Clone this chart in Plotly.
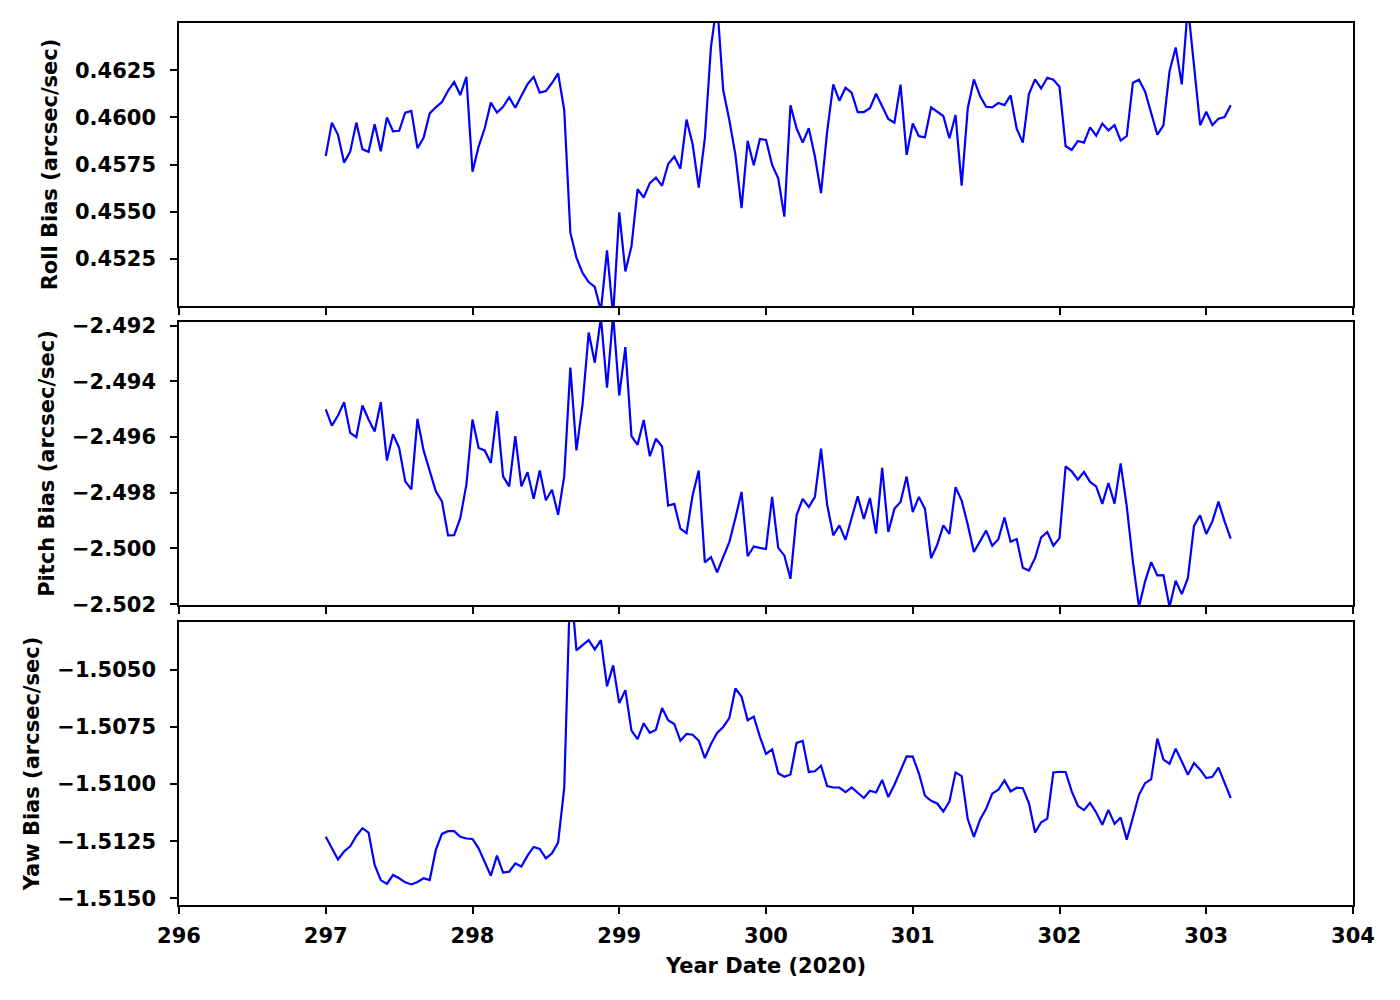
import plotly.graph_objects as go

# Year date (2020), hourly samples
time = [
    297.0000, 297.0417, 297.0833, 297.1250, 297.1667, 297.2083, 297.2500, 297.2917, 297.3333, 297.3750, 297.4167, 297.4583,
    297.5000, 297.5417, 297.5833, 297.6250, 297.6667, 297.7083, 297.7500, 297.7917, 297.8333, 297.8750, 297.9167, 297.9583,
    298.0000, 298.0417, 298.0833, 298.1250, 298.1667, 298.2083, 298.2500, 298.2917, 298.3333, 298.3750, 298.4167, 298.4583,
    298.5000, 298.5417, 298.5833, 298.6250, 298.6667, 298.7083, 298.7500, 298.7917, 298.8333, 298.8750, 298.9167, 298.9583,
    299.0000, 299.0417, 299.0833, 299.1250, 299.1667, 299.2083, 299.2500, 299.2917, 299.3333, 299.3750, 299.4167, 299.4583,
    299.5000, 299.5417, 299.5833, 299.6250, 299.6667, 299.7083, 299.7500, 299.7917, 299.8333, 299.8750, 299.9167, 299.9583,
    300.0000, 300.0417, 300.0833, 300.1250, 300.1667, 300.2083, 300.2500, 300.2917, 300.3333, 300.3750, 300.4167, 300.4583,
    300.5000, 300.5417, 300.5833, 300.6250, 300.6667, 300.7083, 300.7500, 300.7917, 300.8333, 300.8750, 300.9167, 300.9583,
    301.0000, 301.0417, 301.0833, 301.1250, 301.1667, 301.2083, 301.2500, 301.2917, 301.3333, 301.3750, 301.4167, 301.4583,
    301.5000, 301.5417, 301.5833, 301.6250, 301.6667, 301.7083, 301.7500, 301.7917, 301.8333, 301.8750, 301.9167, 301.9583,
    302.0000, 302.0417, 302.0833, 302.1250, 302.1667, 302.2083, 302.2500, 302.2917, 302.3333, 302.3750, 302.4167, 302.4583,
    302.5000, 302.5417, 302.5833, 302.6250, 302.6667, 302.7083, 302.7500, 302.7917, 302.8333, 302.8750, 302.9167, 302.9583,
    303.0000, 303.0417, 303.0833, 303.1250, 303.1667,
]

roll_bias = [
    0.45795, 0.45972, 0.45907, 0.45760, 0.45818, 0.45972, 0.45831, 0.45817, 0.45963, 0.45820,
    0.46000, 0.45926, 0.45929, 0.46025, 0.46034, 0.45836, 0.45892, 0.46021, 0.46053, 0.46081,
    0.46141, 0.46187, 0.46118, 0.46215, 0.45712, 0.45845, 0.45942, 0.46078, 0.46025, 0.46056,
    0.46106, 0.46051, 0.46115, 0.46176, 0.46215, 0.46131, 0.46139, 0.46182, 0.46233, 0.46039,
    0.45390, 0.45256, 0.45175, 0.45127, 0.45101, 0.44975, 0.45295, 0.44950, 0.45496, 0.45183,
    0.45316, 0.45619, 0.45575, 0.45651, 0.45681, 0.45637, 0.45753, 0.45792, 0.45728, 0.45988,
    0.45857, 0.45628, 0.45889, 0.46374, 0.46610, 0.46145, 0.45986, 0.45801, 0.45519, 0.45875,
    0.45746, 0.45885, 0.45880, 0.45748, 0.45677, 0.45474, 0.46064, 0.45942, 0.45866, 0.45942,
    0.45792, 0.45598, 0.45924, 0.46175, 0.46088, 0.46157, 0.46131, 0.46028, 0.46028, 0.46048,
    0.46125, 0.46055, 0.45991, 0.45972, 0.46173, 0.45801, 0.45967, 0.45900, 0.45894, 0.46053,
    0.46030, 0.46007, 0.45889, 0.46012, 0.45638, 0.46048, 0.46201, 0.46113, 0.46056, 0.46053,
    0.46076, 0.46065, 0.46116, 0.45940, 0.45866, 0.46123, 0.46201, 0.46153, 0.46210, 0.46199,
    0.46162, 0.45848, 0.45827, 0.45875, 0.45866, 0.45947, 0.45903, 0.45967, 0.45931, 0.45959,
    0.45877, 0.45901, 0.46183, 0.46199, 0.46136, 0.46016, 0.45908, 0.45958, 0.46245, 0.46370,
    0.46175, 0.46590, 0.46280, 0.45958, 0.46030, 0.45959, 0.45993, 0.46002, 0.46064,
]

pitch_bias = [
    -2.49501, -2.49559, -2.49523, -2.49475, -2.49585, -2.49600, -2.49487, -2.49537, -2.49580, -2.49475,
    -2.49684, -2.49590, -2.49639, -2.49759, -2.49788, -2.49535, -2.49648, -2.49725, -2.49795, -2.49831,
    -2.49953, -2.49952, -2.49891, -2.49771, -2.49537, -2.49639, -2.49648, -2.49693, -2.49507, -2.49741,
    -2.49777, -2.49597, -2.49777, -2.49726, -2.49822, -2.49720, -2.49827, -2.49789, -2.49879, -2.49741,
    -2.49351, -2.49648, -2.49483, -2.49225, -2.49333, -2.49170, -2.49423, -2.49160, -2.49451, -2.49277,
    -2.49597, -2.49628, -2.49539, -2.49669, -2.49606, -2.49634, -2.49846, -2.49840, -2.49929, -2.49945,
    -2.49809, -2.49720, -2.50050, -2.50031, -2.50086, -2.50031, -2.49977, -2.49891, -2.49797, -2.50028,
    -2.49993, -2.49998, -2.50002, -2.49815, -2.49998, -2.50025, -2.50109, -2.49881, -2.49822, -2.49851,
    -2.49815, -2.49642, -2.49843, -2.49953, -2.49917, -2.49969, -2.49894, -2.49813, -2.49894, -2.49819,
    -2.49947, -2.49711, -2.49941, -2.49858, -2.49833, -2.49742, -2.49869, -2.49815, -2.49858, -2.50035,
    -2.49987, -2.49917, -2.49948, -2.49780, -2.49828, -2.49915, -2.50013, -2.49972, -2.49936, -2.49990,
    -2.49967, -2.49889, -2.49976, -2.49966, -2.50069, -2.50079, -2.50035, -2.49960, -2.49941, -2.49990,
    -2.49963, -2.49705, -2.49723, -2.49753, -2.49725, -2.49761, -2.49777, -2.49840, -2.49765, -2.49839,
    -2.49695, -2.49849, -2.50047, -2.50210, -2.50118, -2.50049, -2.50097, -2.50096, -2.50210, -2.50116,
    -2.50164, -2.50106, -2.49918, -2.49881, -2.49948, -2.49903, -2.49832, -2.49903, -2.49965,
]

yaw_bias = [
    -1.51230, -1.51278, -1.51330, -1.51295, -1.51272, -1.51227, -1.51193, -1.51212, -1.51354, -1.51420,
    -1.51437, -1.51398, -1.51412, -1.51430, -1.51439, -1.51428, -1.51412, -1.51420, -1.51288, -1.51218,
    -1.51206, -1.51206, -1.51231, -1.51238, -1.51240, -1.51281, -1.51342, -1.51401, -1.51313, -1.51387,
    -1.51383, -1.51347, -1.51361, -1.51313, -1.51275, -1.51284, -1.51325, -1.51303, -1.51256, -1.51018,
    -1.50100, -1.50415, -1.50392, -1.50370, -1.50411, -1.50370, -1.50572, -1.50481, -1.50646, -1.50589,
    -1.50766, -1.50803, -1.50734, -1.50776, -1.50762, -1.50667, -1.50721, -1.50737, -1.50810, -1.50781,
    -1.50784, -1.50810, -1.50886, -1.50825, -1.50776, -1.50750, -1.50711, -1.50582, -1.50617, -1.50721,
    -1.50705, -1.50792, -1.50868, -1.50848, -1.50953, -1.50968, -1.50958, -1.50820, -1.50811, -1.50947,
    -1.50944, -1.50920, -1.51009, -1.51015, -1.51015, -1.51035, -1.51015, -1.51038, -1.51061, -1.51029,
    -1.51037, -1.50982, -1.51057, -1.51003, -1.50937, -1.50879, -1.50880, -1.50953, -1.51051, -1.51073,
    -1.51085, -1.51120, -1.51076, -1.50949, -1.50965, -1.51154, -1.51231, -1.51156, -1.51108, -1.51042,
    -1.51025, -1.50984, -1.51032, -1.51016, -1.51018, -1.51083, -1.51212, -1.51167, -1.51151, -1.50949,
    -1.50946, -1.50947, -1.51032, -1.51095, -1.51114, -1.51082, -1.51124, -1.51178, -1.51113, -1.51174,
    -1.51146, -1.51243, -1.51146, -1.51047, -1.50996, -1.50978, -1.50801, -1.50893, -1.50911, -1.50845,
    -1.50901, -1.50959, -1.50908, -1.50937, -1.50974, -1.50968, -1.50928, -1.50996, -1.51061,
]

x_ticks = [296, 297, 298, 299, 300, 301, 302, 303, 304]
roll_ticks = [0.4525, 0.4550, 0.4575, 0.4600, 0.4625]
pitch_ticks = [-2.502, -2.500, -2.498, -2.496, -2.494, -2.492]
yaw_ticks = [-1.5150, -1.5125, -1.5100, -1.5075, -1.5050]

roll_range = [0.4500, 0.4650]
pitch_range = [-2.50203, -2.49187]
yaw_range = [-1.51529, -1.50291]
x_range = [296, 304]

FONT = "DejaVu Sans"
tick_font = dict(family=FONT, size=21, color="black", weight="bold")
title_font = dict(family=FONT, size=21, color="black", weight="bold")

fig = go.Figure()
line = dict(color="#0000ff", width=2.2)
fig.add_trace(go.Scatter(x=time, y=roll_bias, mode="lines", line=line, xaxis="x", yaxis="y", showlegend=False))
fig.add_trace(go.Scatter(x=time, y=pitch_bias, mode="lines", line=line, xaxis="x2", yaxis="y2", showlegend=False))
fig.add_trace(go.Scatter(x=time, y=yaw_bias, mode="lines", line=line, xaxis="x3", yaxis="y3", showlegend=False))

common = dict(
    showline=True, linecolor="black", linewidth=1.6, mirror=True,
    ticks="outside", ticklen=7, tickwidth=1.6, tickcolor="black",
    showgrid=False, zeroline=False, tickfont=tick_font,
)

def xax(anchor, labels):
    return dict(common, domain=[0, 1], range=x_range, tickmode="array", tickvals=x_ticks,
                showticklabels=labels, anchor=anchor, ticklabelstandoff=4)

fig.update_layout(
    width=1400, height=1000,
    margin=dict(l=179, r=47, t=23, b=95, autoexpand=False),
    plot_bgcolor="white", paper_bgcolor="white",
    xaxis=xax("y", False),
    xaxis2=xax("y2", False),
    xaxis3=dict(xax("y3", True),
                title=dict(text="Year Date (2020)", font=title_font, standoff=11)),
    yaxis=dict(common, domain=[0.67914, 1.0], range=roll_range, tickmode="array",
               tickvals=roll_ticks, tickformat=".4f", anchor="x", ticklabelstandoff=10,
               title=dict(text="Roll Bias (arcsec/sec)", font=title_font, standoff=12)),
    yaxis2=dict(common, domain=[0.34014, 0.66100], range=pitch_range, tickmode="array",
                tickvals=pitch_ticks, tickformat=".3f", anchor="x2", ticklabelstandoff=10,
                title=dict(text="Pitch Bias (arcsec/sec)", font=title_font, standoff=12)),
    yaxis3=dict(common, domain=[0.0, 0.32086], range=yaw_range, tickmode="array",
                tickvals=yaw_ticks, tickformat=".4f", anchor="x3", ticklabelstandoff=10,
                title=dict(text="Yaw Bias (arcsec/sec)", font=title_font, standoff=12)),
)

fig.write_html("out.html", config={"displayModeBar": False},
               post_script="document.body.style.margin='0';")
